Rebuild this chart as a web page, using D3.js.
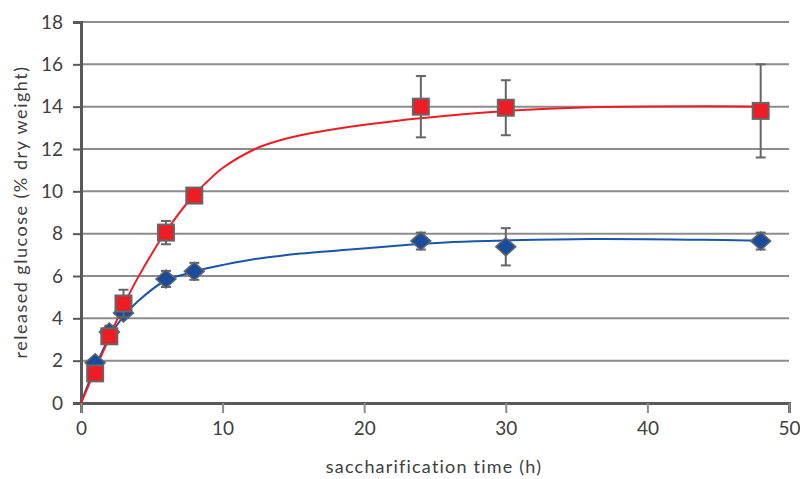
<!DOCTYPE html>
<head>
  <style>
    body { margin: 0; background: #fff; }
    text { font-family: Lato, "Open Sans", sans-serif; fill: #404040; }
  </style>
</head>
<body>
  <script src="https://cdn.jsdelivr.net/npm/d3@7/dist/d3.min.js"></script>
  <script>
    // measured points (hours, % dry weight)
    var hours = [1, 2, 3, 6, 8, 24, 30, 48]
    var redVals = [1.4, 3.15, 4.7, 8.05, 9.8, 14.0, 13.95, 13.8]
    var redErr = [0.1, 0.2, 0.65, 0.55, 0.35, 1.45, 1.3, 2.2]
    var blueVals = [1.9, 3.35, 4.25, 5.86, 6.22, 7.65, 7.38, 7.65]
    var blueErr = [0.1, 0.3, 0.1, 0.38, 0.4, 0.4, 0.88, 0.4]

    // fitted curves
    var curveT = [0, 1, 2, 3, 4, 6, 8, 8.9, 10, 12.3, 14, 15.5, 19, 22.5, 26, 30, 36, 44, 48]
    var redCurve = [0, 1.55, 3.1, 4.6, 5.9, 8.1, 9.85, 10.45, 11.1, 12.0, 12.4, 12.65, 13.05, 13.35, 13.58, 13.8, 13.97, 14.02, 14.0]
    var blueCurve = [0, 1.7, 3.1, 4.1, 4.8, 5.8, 6.2, 6.37, 6.52, 6.8, 6.95, 7.06, 7.25, 7.44, 7.6, 7.68, 7.75, 7.71, 7.66]

    var xTicks = [0, 10, 20, 30, 40, 50]
    var yTicks = [0, 2, 4, 6, 8, 10, 12, 14, 16, 18]

    var w = 800
    var h = 479

    var x = d3.scaleLinear().domain([0, 50]).range([81, 789])
    var y = d3.scaleLinear().domain([0, 18]).range([403, 22])

    var svg = d3.select("body")
                .append("svg")
                .attr("width", w)
                .attr("height", h)

    // gridlines
    svg.append("g")
        .selectAll("line")
        .data(yTicks.slice(1))
        .enter()
        .append("line")
        .attr("x1", x(0))
        .attr("x2", x(50))
        .attr("y1", function(d) { return y(d) })
        .attr("y2", function(d) { return y(d) })
        .attr("stroke", "#8c8c8c")
        .attr("stroke-width", 2)

    // axes
    var yAxis = d3.axisLeft(y).tickValues(yTicks).tickSize(8).tickPadding(10)
    var gy = svg.append("g")
        .attr("transform", "translate(" + x(0) + ",0)")
        .call(yAxis)
    gy.select(".domain").attr("stroke", "#595959").attr("stroke-width", 3)
    gy.selectAll(".tick line").attr("stroke", "#595959").attr("stroke-width", 2)
    gy.selectAll(".tick text").attr("font-size", 19).attr("fill", "#404040")
        .attr("font-family", "Lato, sans-serif")

    var xAxis = d3.axisBottom(x).tickValues(xTicks).tickSize(10).tickPadding(9)
    var gx = svg.append("g")
        .attr("transform", "translate(0," + y(0) + ")")
        .call(xAxis)
    gx.select(".domain").attr("stroke", "#595959").attr("stroke-width", 3)
    gx.selectAll(".tick line").attr("stroke", "#8c8c8c").attr("stroke-width", 2)
    gx.selectAll(".tick text").attr("font-size", 19).attr("fill", "#404040")
        .attr("font-family", "Lato, sans-serif")

    // curves
    var fitLine = d3.line()
        .x(function(d, i) { return x(curveT[i]) })
        .y(function(d) { return y(d) })
        .curve(d3.curveCatmullRom.alpha(0.5))

    svg.append("path")
        .attr("d", fitLine(blueCurve))
        .attr("fill", "none")
        .attr("stroke", "#1b55a8")
        .attr("stroke-width", 2)

    svg.append("path")
        .attr("d", fitLine(redCurve))
        .attr("fill", "none")
        .attr("stroke", "#ee1c25")
        .attr("stroke-width", 2)

    // error bars
    function errBars(vals, errs) {
      var g = svg.append("g").attr("stroke", "#666").attr("stroke-width", 2)
      vals.forEach(function(v, i) {
        var cx = x(hours[i])
        g.append("line").attr("x1", cx).attr("x2", cx)
          .attr("y1", y(v + errs[i])).attr("y2", y(v - errs[i]))
        g.append("line").attr("x1", cx - 5).attr("x2", cx + 5)
          .attr("y1", y(v + errs[i])).attr("y2", y(v + errs[i]))
        g.append("line").attr("x1", cx - 5).attr("x2", cx + 5)
          .attr("y1", y(v - errs[i])).attr("y2", y(v - errs[i]))
      })
    }
    errBars(blueVals, blueErr)

    // blue diamonds
    svg.selectAll("path.diamond")
        .data(blueVals)
        .enter()
        .append("path")
        .attr("class", "diamond")
        .attr("d", "M0,-9L10,0L0,9L-10,0Z")
        .attr("transform", function(d, i) { return "translate(" + x(hours[i]) + "," + y(d) + ")" })
        .attr("fill", "#1a4c9c")
        .attr("stroke", "#666")
        .attr("stroke-width", 1.5)

    errBars(redVals, redErr)

    // red squares
    svg.selectAll("rect.sq")
        .data(redVals)
        .enter()
        .append("rect")
        .attr("class", "sq")
        .attr("x", function(d, i) { return x(hours[i]) - 8 })
        .attr("y", function(d) { return y(d) - 8 })
        .attr("width", 16)
        .attr("height", 16)
        .attr("fill", "#ee1c25")
        .attr("stroke", "#666")
        .attr("stroke-width", 2)

    // axis titles
    svg.append("text")
        .attr("text-anchor", "middle")
        .attr("x", 434)
        .attr("y", 473)
        .attr("font-size", 18)
        .attr("letter-spacing", 1.2)
        .text("saccharification time (h)")

    svg.append("text")
        .attr("text-anchor", "middle")
        .attr("transform", "rotate(-90)")
        .attr("x", -212)
        .attr("y", 27)
        .attr("font-size", 18)
        .attr("letter-spacing", 1.5)
        .text("released glucose (% dry weight)")
  </script>
</body>
